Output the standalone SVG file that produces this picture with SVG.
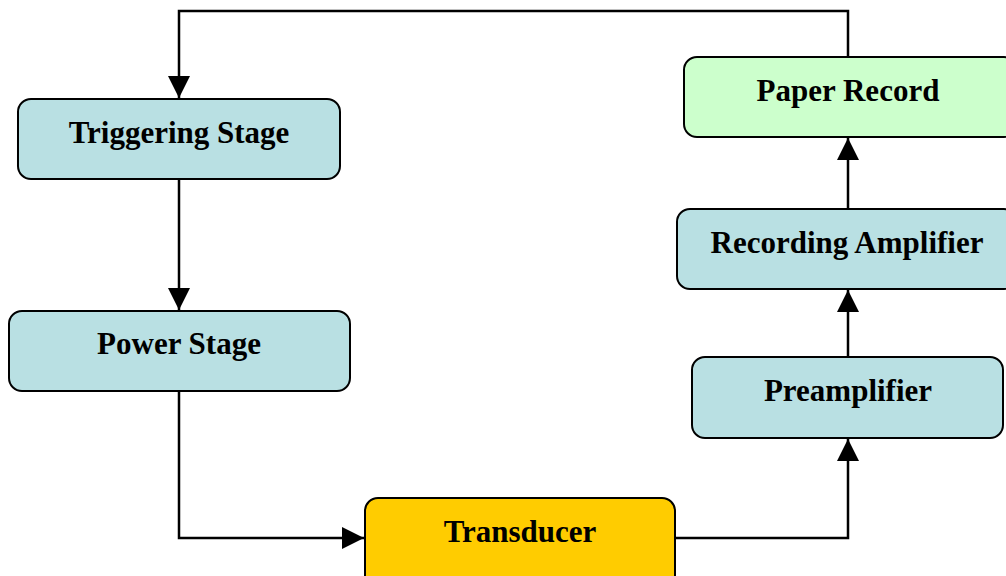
<svg xmlns="http://www.w3.org/2000/svg" width="1006" height="576" viewBox="0 0 1006 576">
<style>
.box{stroke:#000;stroke-width:2}
.blue{fill:#B9E0E3}
.green{fill:#CCFFCC}
.yellow{fill:#FFCC00}
.lbl{font-family:"Liberation Serif","Times New Roman",serif;font-weight:bold;font-size:31px;text-anchor:middle;fill:#000}
.wire{fill:none;stroke:#000;stroke-width:2.5}
</style>
<defs>
<marker id="ah" markerWidth="22" markerHeight="22" refX="22" refY="11" orient="auto" markerUnits="userSpaceOnUse">
<path d="M0,0 L22,11 L0,22 Z" fill="#000"/>
</marker>
</defs>
<rect width="1006" height="576" fill="#fff"/>
<g id="connectors">
<path class="wire" d="M848,57 V11 H179 V98" marker-end="url(#ah)"/>
<path class="wire" d="M179,179 V310" marker-end="url(#ah)"/>
<path class="wire" d="M179,391 V538 H364" marker-end="url(#ah)"/>
<path class="wire" d="M675,538 H848 V439" marker-end="url(#ah)"/>
<path class="wire" d="M848,357 V290" marker-end="url(#ah)"/>
<path class="wire" d="M848,209 V138" marker-end="url(#ah)"/>
</g>
<g id="triggering">
<rect class="box blue" x="18" y="99" width="322" height="80" rx="13"/>
<text class="lbl" x="179" y="143">Triggering Stage</text>
</g>
<g id="power">
<rect class="box blue" x="9" y="311" width="341" height="80" rx="13"/>
<text class="lbl" x="179" y="354">Power Stage</text>
</g>
<g id="transducer">
<rect class="box yellow" x="365" y="498" width="310" height="90" rx="13"/>
<text class="lbl" x="520" y="542">Transducer</text>
</g>
<g id="preamplifier">
<rect class="box blue" x="692" y="357" width="311" height="81" rx="13"/>
<text class="lbl" x="848" y="401">Preamplifier</text>
</g>
<g id="recording">
<rect class="box blue" x="677" y="209" width="340" height="80" rx="13"/>
<text class="lbl" x="847" y="253">Recording Amplifier</text>
</g>
<g id="paper">
<rect class="box green" x="684" y="57" width="333" height="80" rx="13"/>
<text class="lbl" x="848" y="101">Paper Record</text>
</g>
</svg>
